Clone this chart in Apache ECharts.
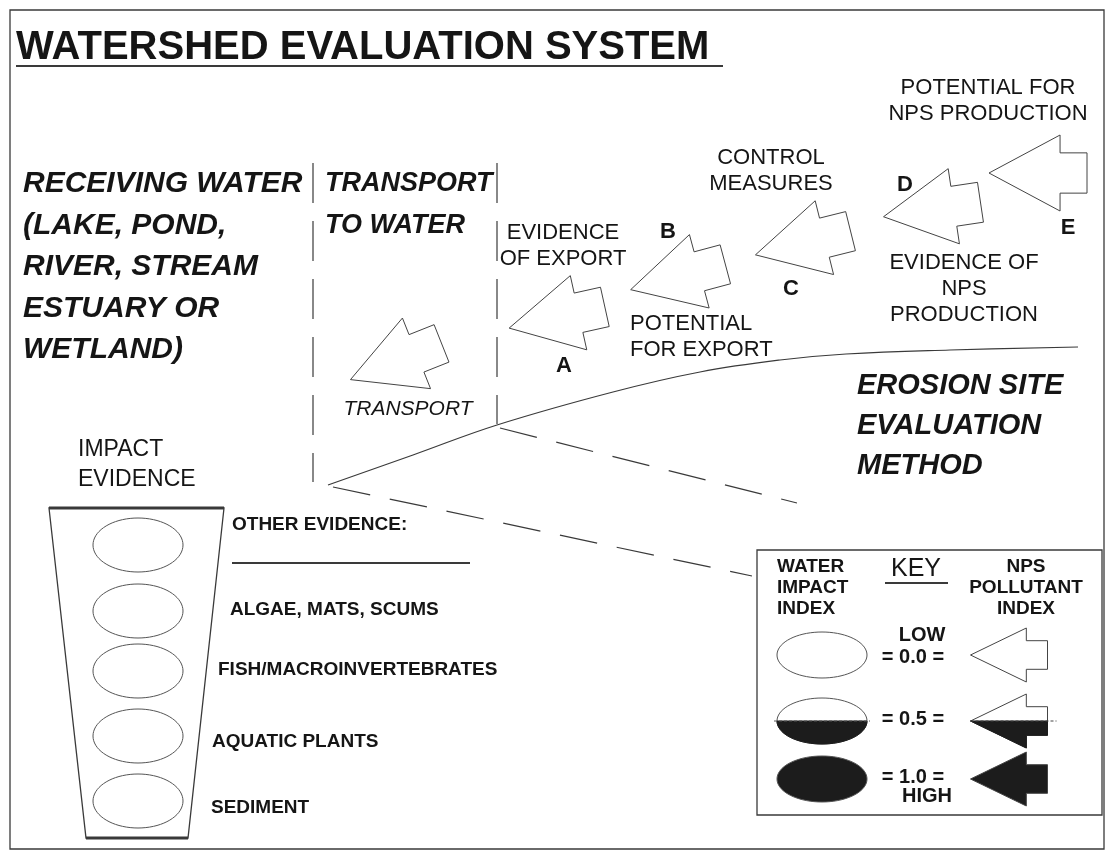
<!DOCTYPE html>
<html><head><meta charset="utf-8">
<script src="https://cdn.jsdelivr.net/npm/echarts@6/dist/echarts.min.js"></script>
<style>html,body{margin:0;padding:0;background:#fff}#c{width:1107px;height:861px}</style>
</head><body><div id="c"></div>
<script>
// ================= DATA (content) =================
const titleText = 'WATERSHED EVALUATION SYSTEM';
const receivingLines = ['RECEIVING WATER', '(LAKE, POND,', 'RIVER, STREAM', 'ESTUARY OR', 'WETLAND)'];
const transportLines = ['TRANSPORT', 'TO WATER'];
const erosionLines = ['EROSION SITE', 'EVALUATION', 'METHOD'];
const arrowNames = ['TRANSPORT', 'A', 'B', 'C', 'D', 'E'];
const arrowIndexValues = [0, 0, 0, 0, 0, 0];          // NPS pollutant index of each arrow
const stageLabels = [['EVIDENCE', 'OF EXPORT'], ['POTENTIAL', 'FOR EXPORT'], ['CONTROL', 'MEASURES'],
                     ['POTENTIAL FOR', 'NPS PRODUCTION'], ['EVIDENCE OF', 'NPS', 'PRODUCTION']];
const impactTitle = ['IMPACT', 'EVIDENCE'];
const evidenceCategories = ['OTHER EVIDENCE:', 'ALGAE, MATS, SCUMS', 'FISH/MACROINVERTEBRATES', 'AQUATIC PLANTS', 'SEDIMENT'];
const evidenceValues = [0, 0, 0, 0, 0];               // water impact index of each category
const keyLevels = [0.0, 0.5, 1.0];
const keyLevelLabels = ['= 0.0 =', '= 0.5 =', '= 1.0 ='];
const keyHeads = [['WATER', 'IMPACT', 'INDEX'], ['NPS', 'POLLUTANT', 'INDEX']];
const keyEnds = ['LOW', 'HIGH'];
// erosion boundary curve points [x, y] in picture space
const boundaryCurve = [[328, 485], [413, 455], [497, 425], [613, 392], [700, 372], [780, 360], [846, 354], [950, 350], [1078, 347]];

// ================= LAYOUT (picture space, 1 unit = 1 px) =================
const arrowPlace = [[396, 361.5, 21.7], [557, 317.5, 12.5], [678, 277, 15], [803, 243, 14], [932, 209.5, 8.5], [1038, 173, 0]];
const arrowLetterPos = [null, [564, 366], [668, 232], [791, 289], [905, 185], [1068, 228]];
const stagePos = [[563, 233, 'center'], [630, 324, 'left'], [771, 158, 'center'], [988, 88, 'center'], [964, 263, 'center']];
const evidenceY = [545, 611, 671, 736, 801];
const evidenceLabelPos = [[232, 525], [230, 610], [218, 670], [212, 742], [211, 808]];
const keyRowY = [655, 721, 779];

const BLACK = '#1c1c1c', LINE = '#3a3a3a';
const FONT = 'Liberation Sans, Arial, Helvetica, sans-serif';

// ---------- text items ----------
const texts = [];
function addText(t, x, y, o) { texts.push(Object.assign({ t, x, y, size: 22, weight: 'normal', style: 'normal', align: 'left' }, o || {})); }
addText(titleText, 16, 48, { size: 40, weight: 'bold' });
receivingLines.forEach((s, i) => addText(s, 23, 184 + i * 41.5, { size: 30, weight: 'bold', style: 'italic' }));
transportLines.forEach((s, i) => addText(s, 325, 184 + i * 41.5, { size: 27, weight: 'bold', style: 'italic' }));
erosionLines.forEach((s, i) => addText(s, 857, 386 + i * 40, { size: 29, weight: 'bold', style: 'italic' }));
addText(arrowNames[0], 408, 409, { size: 21, style: 'italic', align: 'center' });
stageLabels.forEach((lines, k) => lines.forEach((s, i) => addText(s, stagePos[k][0], stagePos[k][1] + i * 26, { align: stagePos[k][2] })));
arrowNames.forEach((n, i) => { if (arrowLetterPos[i]) addText(n, arrowLetterPos[i][0], arrowLetterPos[i][1], { weight: 'bold', align: 'center' }); });
impactTitle.forEach((s, i) => addText(s, 78, 450 + i * 30, { size: 23 }));
evidenceCategories.forEach((s, i) => addText(s, evidenceLabelPos[i][0], evidenceLabelPos[i][1], { size: 19, weight: 'bold' }));
keyHeads[0].forEach((s, i) => addText(s, 777, 567 + i * 21, { size: 19, weight: 'bold' }));
keyHeads[1].forEach((s, i) => addText(s, 1026, 567 + i * 21, { size: 19, weight: 'bold', align: 'center' }));
addText('KEY', 916, 569, { size: 25, align: 'center' });
addText(keyEnds[0], 922, 635, { size: 20, weight: 'bold', align: 'center' });
addText(keyEnds[1], 927, 796, { size: 20, weight: 'bold', align: 'center' });
keyLevelLabels.forEach((s, i) => addText(s, 913, [657, 719, 777][i], { size: 20, weight: 'bold', align: 'center' }));

// ---------- straight lines [x1,y1,x2,y2,width,dash] ----------
const segs = [
  [16, 66, 723, 66, 2, null],            // title underline
  [232, 563, 470, 563, 2, null],         // other evidence blank
  [885, 583, 948, 583, 2, null],         // KEY underline
  [49, 508, 224, 508, 3, null],          // bucket top
  [86, 838, 188, 838, 3, null],          // bucket bottom
  [313, 163, 313, 482, 1.2, [40, 18]],   // zone divider 1
  [497, 163, 497, 424, 1.2, [40, 18]],   // zone divider 2
  [500, 428, 797, 503, 1.2, [38, 20]],   // projection lines
  [333, 487, 752, 576, 1.2, [38, 20]],
  [134, 644, 134, 698, 1, [3, 2]]        // fish ellipse divider
];
const rects = [[10, 10, 1104, 849], [757, 550, 1102, 815]];

// ---------- arrows [cx, cy, angle, length, headHalfWidth, fill] ----------
const arrows = arrowPlace.map((p, i) => [p[0], p[1], p[2], 98, 38, arrowIndexValues[i]]);
keyLevels.forEach((v, i) => arrows.push([1009, keyRowY[i], 0, 77, 27, v]));

// ---------- ellipses [cx, cy, rx, ry, fill] ----------
const ellipses = evidenceValues.map((v, i) => [138, evidenceY[i], 45, 27, v]);
keyLevels.forEach((v, i) => ellipses.push([822, keyRowY[i], 45, 23, v]));

function rot(pts, a, cx, cy) {
  const t = -a * Math.PI / 180, c = Math.cos(t), s = Math.sin(t);
  return pts.map(([x, y]) => [cx + x * c - y * s, cy + x * s + y * c]);
}

const chart = echarts.init(document.getElementById('c'), null, { renderer: 'canvas' });
chart.setOption({
  animation: false,
  backgroundColor: '#fff',
  grid: { left: 0, right: 0, top: 0, bottom: 0 },
  xAxis: { type: 'value', min: 0, max: 1107, show: false },
  yAxis: { type: 'value', min: 0, max: 861, inverse: true, show: false },
  series: [
    { type: 'custom', name: 'frames', clip: false, data: rects,
      renderItem: (p, api) => {
        const a = api.coord([api.value(0), api.value(1)]), b = api.coord([api.value(2), api.value(3)]);
        return { type: 'rect', shape: { x: a[0], y: a[1], width: b[0] - a[0], height: b[1] - a[1] },
                 style: { fill: 'none', stroke: LINE, lineWidth: 1.3 } };
      } },
    { type: 'custom', name: 'lines', clip: false, data: segs.map(s => s.slice(0, 5)),
      renderItem: (p, api) => {
        const s = segs[p.dataIndex];
        const a = api.coord([s[0], s[1]]), b = api.coord([s[2], s[3]]);
        return { type: 'line', shape: { x1: a[0], y1: a[1], x2: b[0], y2: b[1] },
                 style: { stroke: LINE, lineWidth: s[4], lineDash: s[5] || null } };
      } },
    { type: 'custom', name: 'bucket', clip: false, data: [[49, 508]],
      renderItem: (p, api) => {
        const pts = [[49, 508], [224, 508], [188, 838], [86, 838]].map(q => api.coord(q));
        return { type: 'polygon', shape: { points: pts }, style: { fill: 'none', stroke: LINE, lineWidth: 1.3 } };
      } },
    { type: 'line', name: 'boundary', data: boundaryCurve, smooth: 0.4, symbol: 'none',
      lineStyle: { color: LINE, width: 1.2 } },
    { type: 'custom', name: 'ellipses', clip: false, data: ellipses,
      renderItem: (p, api) => {
        const e = ellipses[p.dataIndex];
        const c = api.coord([e[0], e[1]]);
        const full = [], half = [];
        for (let k = 0; k <= 72; k++) { const t = k / 72 * Math.PI * 2; full.push([c[0] + e[2] * Math.cos(t), c[1] + e[3] * Math.sin(t)]); }
        for (let k = 0; k <= 36; k++) { const t = k / 36 * Math.PI; half.push([c[0] + e[2] * Math.cos(t), c[1] + e[3] * Math.sin(t)]); }
        const ch = [{ type: 'polygon', shape: { points: full }, style: { fill: e[4] >= 1 ? BLACK : '#fff', stroke: '#555', lineWidth: 1 } }];
        if (e[4] > 0 && e[4] < 1) {
          ch.push({ type: 'polygon', shape: { points: half }, style: { fill: BLACK, stroke: BLACK, lineWidth: 1 } });
          ch.push({ type: 'line', shape: { x1: c[0] - e[2] - 3, y1: c[1], x2: c[0] + e[2] + 3, y2: c[1] }, style: { stroke: '#555', lineWidth: 1, lineDash: [3, 2] } });
        }
        return { type: 'group', children: ch };
      } },
    { type: 'custom', name: 'arrows', clip: false, data: arrows,
      renderItem: (p, api) => {
        const a = arrows[p.dataIndex];
        const c = api.coord([a[0], a[1]]);
        const L = a[3], W = a[4], h = L / 2, hb = -h + 0.725 * L, ws = W * 0.53;
        const outline = [[-h, 0], [hb, -W], [hb, -ws], [h, -ws], [h, ws], [hb, ws], [hb, W]];
        const ch = [{ type: 'polygon', shape: { points: rot(outline, a[2], c[0], c[1]) },
                      style: { fill: a[5] >= 1 ? BLACK : '#fff', stroke: '#444', lineWidth: 1 } }];
        if (a[5] > 0 && a[5] < 1) {
          ch.push({ type: 'polygon', shape: { points: rot([[-h, 0], [h, 0], [h, ws], [hb, ws], [hb, W]], a[2], c[0], c[1]) },
                    style: { fill: BLACK, stroke: BLACK, lineWidth: 1 } });
          const ln = rot([[-h, 0], [h + 9, 0]], a[2], c[0], c[1]);
          ch.push({ type: 'line', shape: { x1: ln[0][0], y1: ln[0][1], x2: ln[1][0], y2: ln[1][1] }, style: { stroke: '#444', lineWidth: 1, lineDash: [3, 2] } });
        }
        return { type: 'group', children: ch };
      } },
    { type: 'custom', name: 'texts', clip: false, data: texts.map(t => [t.x, t.y]),
      renderItem: (p, api) => {
        const t = texts[p.dataIndex];
        const c = api.coord([api.value(0), api.value(1)]);
        return { type: 'text', x: c[0], y: c[1],
                 style: { text: t.t, fill: '#151515', fontFamily: FONT, fontSize: t.size, fontWeight: t.weight,
                          fontStyle: t.style, align: t.align, verticalAlign: 'middle' } };
      } }
  ]
});
</script></body></html>
